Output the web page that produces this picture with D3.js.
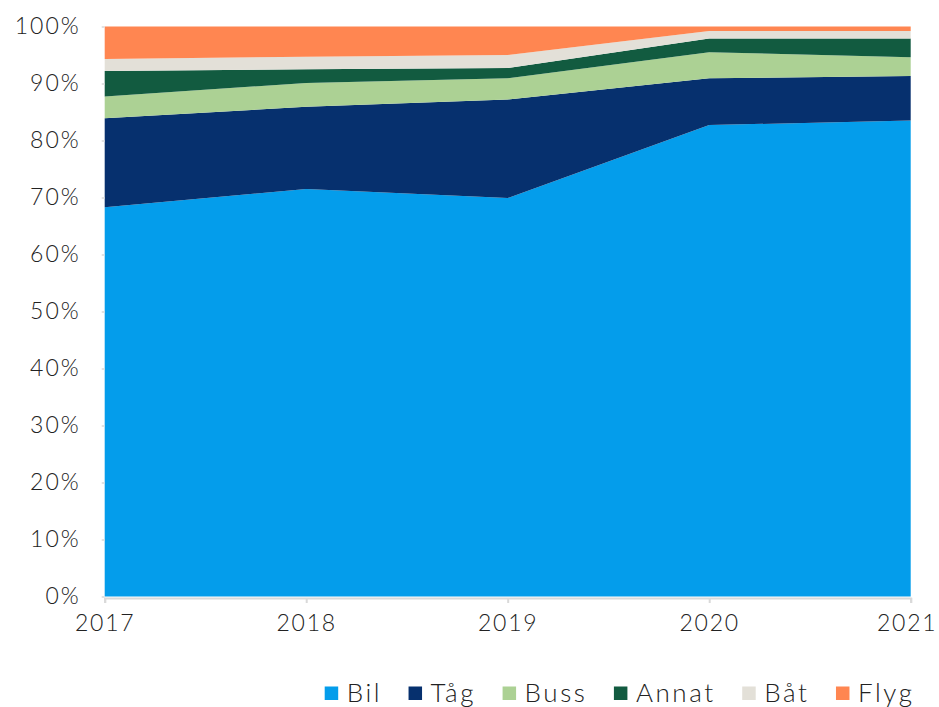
<!DOCTYPE html>
<html>
<head>
<meta charset="utf-8">
<script src="https://cdn.jsdelivr.net/npm/d3@7/dist/d3.min.js"></script>
<style>
  html, body { margin: 0; padding: 0; background: #fff; }
  svg text { font-family: "Lato", "Inter", "DejaVu Sans", sans-serif; font-weight: 300; fill: #222; }
</style>
</head>
<body>
<svg id="chart" width="939" height="707"></svg>
<script>
const years = ["2017", "2018", "2019", "2020", "2021"];
const seriesNames = ["Bil", "Tåg", "Buss", "Annat", "Båt", "Flyg"];
const bil   = [68.3, 71.5, 69.9, 82.7, 83.5];
const tag   = [15.6, 14.4, 17.3,  8.2,  7.8];
const buss  = [ 3.8,  4.2,  3.7,  4.6,  3.3];
const annat = [ 4.5,  2.4,  1.8,  2.4,  3.3];
const bat   = [ 2.1,  2.2,  2.3,  1.3,  1.3];
const flyg  = [ 5.7,  5.3,  5.0,  0.8,  0.8];
const yTicks = [0, 10, 20, 30, 40, 50, 60, 70, 80, 90, 100];
const colors = ["#049DEB", "#06306E", "#ACD194", "#125B40", "#E3E0D8", "#FF8651"];

const seriesValues = [bil, tag, buss, annat, bat, flyg];
const table = years.map((yr, i) => {
  const row = { year: yr };
  seriesNames.forEach((s, j) => row[s] = seriesValues[j][i]);
  return row;
});
table.forEach(r => {
  const tot = d3.sum(seriesNames, s => r[s]);
  seriesNames.forEach(s => r[s] = r[s] / tot * 100);
});

const svg = d3.select("#chart");
const mLeft = 104.7, mRight = 910.7, mTop = 26.5, mBottom = 596.5;

const x = d3.scalePoint().domain(years).range([mLeft, mRight]);
const y = d3.scaleLinear().domain([0, 100]).range([mBottom, mTop]);

const layers = d3.stack().keys(seriesNames)(table);

const area = d3.area()
  .x(d => x(d.data.year))
  .y0(d => y(d[0]))
  .y1(d => y(d[1]));

svg.append("g").selectAll("path")
  .data(layers)
  .join("path")
  .attr("d", area)
  .attr("fill", (d, i) => colors[i]);

const yAxis = svg.append("g")
  .attr("transform", `translate(${mLeft},0)`)
  .call(d3.axisLeft(y).tickValues(yTicks).tickFormat(d => d + "%").tickSize(3).tickPadding(21));
yAxis.select(".domain").remove();
yAxis.selectAll(".tick line").attr("stroke", "#d9d9d9").attr("stroke-width", 1.5);
yAxis.selectAll(".tick text").attr("font-size", 23).attr("fill", "#222")
  .style("letter-spacing", "2px")
  .style("font-family", '"Lato", "Inter", sans-serif').style("font-weight", 300);

const xAxis = svg.append("g")
  .attr("transform", `translate(0,${mBottom + 1.5})`)
  .call(d3.axisBottom(x).tickSize(5).tickPadding(12));
xAxis.select(".domain").attr("stroke", "#d9d9d9").attr("stroke-width", 2);
xAxis.selectAll(".tick line").attr("stroke", "#d9d9d9").attr("stroke-width", 2);
xAxis.selectAll(".tick text").attr("font-size", 23).attr("fill", "#222")
  .attr("dx", (d, i) => i === years.length - 1 ? -4 : 0)
  .style("letter-spacing", "1.8px")
  .style("font-family", '"Lato", "Inter", sans-serif').style("font-weight", 300);

const legend = svg.append("g");
const items = seriesNames.map((s, i) => {
  const g = legend.append("g");
  g.append("rect").attr("width", 13.5).attr("height", 13.5).attr("y", -15).attr("fill", colors[i]);
  const t = g.append("text").attr("x", 22).attr("y", 0).attr("font-size", 26)
    .style("letter-spacing", "2.6px").text(s);
  return { g, w: 22 + t.node().getComputedTextLength() - 2.6 };
});
const gap = 29;
const totalW = d3.sum(items, d => d.w) + gap * (items.length - 1);
let cx = 912 - totalW;
items.forEach(it => {
  it.g.attr("transform", `translate(${cx},701.5)`);
  cx += it.w + gap;
});
</script>
</body>
</html>
